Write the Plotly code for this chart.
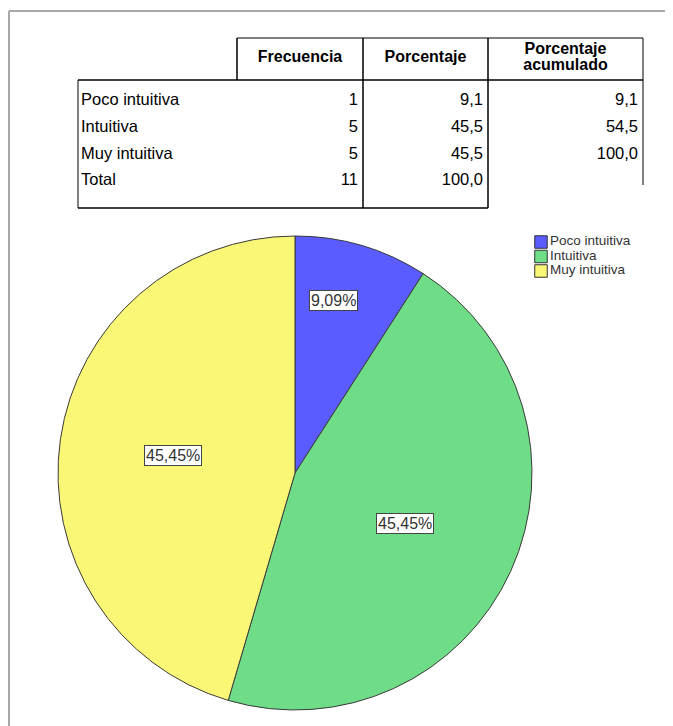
import numpy as np
import plotly.graph_objects as go

# data
categorias = ["Poco intuitiva", "Intuitiva", "Muy intuitiva"]
frecuencia = [1, 5, 5]
encabezados = ["Frecuencia", "Porcentaje", "Porcentaje<br>acumulado"]
colores = ["#5a5cff", "#6fdd87", "#fbf776"]

W, H = 673, 726
OFF = 8  # page body margin, so axis units == screen pixels
FONT = "Liberation Sans, Arial, sans-serif"

total = sum(frecuencia)
pct = [f / total * 100 for f in frecuencia]
acum = np.cumsum(pct)
fmt = lambda v, d=1: f"{v:.{d}f}".replace(".", ",")

filas = categorias + ["Total"]
col_frec = [str(f) for f in frecuencia] + [str(total)]
col_pct = [fmt(p) for p in pct] + [fmt(100)]
col_acum = [fmt(a) for a in acum] + [""]

# table geometry (screen pixels)
xl, x1, x2, x3, x4 = 78, 237, 363, 488, 643
y_top, y_hdr, y_bot = 38, 80, 208
row_y = [101, 128, 155, 181]
hdr_y, hdr_lh = 58, 16.5

fig = go.Figure()

txt = dict(mode="text", showlegend=False, hoverinfo="skip")
body_font = dict(family=FONT, size=16.5, color="#000")
fig.add_trace(go.Scatter(x=[xl + 3] * 4, y=row_y, text=filas, textposition="middle right",
                         textfont=body_font, **txt))
for xr, col in [(x2, col_frec), (x3, col_pct), (x4, col_acum)]:
    fig.add_trace(go.Scatter(x=[xr - 5] * 4, y=row_y, text=col, textposition="middle left",
                             textfont=body_font, **txt))
hx, hy, ht = [], [], []
for xc, h in zip([(x1 + x2) / 2, (x2 + x3) / 2, (x3 + x4) / 2], encabezados):
    partes = h.split("<br>")
    for k, p in enumerate(partes):
        hx.append(xc)
        hy.append(hdr_y + (k - (len(partes) - 1) / 2) * hdr_lh)
        ht.append(f"<b>{p}</b>")
fig.add_trace(go.Scatter(x=hx, y=hy, text=ht, textposition="middle center",
                         textfont=dict(family=FONT, size=16, color="#000"), **txt))

def line(xa, ya, xb, yb, w=1.0, c="#000"):
    fig.add_shape(type="line", xref="x", yref="y", x0=xa, y0=ya, x1=xb, y1=yb,
                  line=dict(color=c, width=w))

line(x1, y_top, x4, y_top)
line(xl, y_hdr, x4, y_hdr, 1.5)
line(xl, y_bot, x3, y_bot, 1.5)
line(xl, y_hdr, xl, y_bot)
line(x1, y_top, x1, y_hdr, 1.5)
line(x2, y_top, x2, y_bot, 1.5)
line(x3, y_top, x3, y_bot, 1.5)
line(x4, y_top, x4, 185)

# outer frame
line(9, 11, W + 20, 11, 2, "#a8a8a8")
line(9, 11, 9, H + 20, 2, "#a8a8a8")

# pie
cx, cy, R = 295, 473, 237
fig.add_trace(go.Pie(labels=categorias, values=frecuencia, sort=False, direction="clockwise",
                     rotation=0, textinfo="none", hoverinfo="label+percent", showlegend=False,
                     marker=dict(colors=colores, line=dict(color="#3a3a3a", width=1)),
                     domain=dict(x=[(cx - R - OFF) / W, (cx + R - OFF) / W],
                                 y=[1 - (cy + R - OFF) / H, 1 - (cy - R - OFF) / H])))

# boxed percentage labels inside each slice
r_frac = [0.745, 0.51, 0.52]
pos_in_slice = [0.38, 0.5, 0.5]
start = np.concatenate([[0], np.cumsum(pct)[:-1]])
for p, s, rf, ps in zip(pct, start, r_frac, pos_in_slice):
    th = np.deg2rad((s + p * ps) * 3.6)
    fig.add_annotation(x=cx + rf * R * np.sin(th), y=cy - rf * R * np.cos(th), xref="x", yref="y",
                       text=fmt(p, 2) + "%", showarrow=False,
                       font=dict(family=FONT, size=16, color="#333"),
                       bgcolor="white", bordercolor="#444", borderwidth=1, borderpad=1)

# legend (swatch + label per category)
leg_x, leg_y, leg_dy = 541, 242, 14.5
leg_yy = [leg_y + i * leg_dy for i in range(len(categorias))]
fig.add_trace(go.Scatter(x=[leg_x] * len(categorias), y=leg_yy, mode="markers", showlegend=False,
                         hoverinfo="skip",
                         marker=dict(symbol="square", size=12.5, color=colores,
                                     line=dict(color="#333", width=1))))
fig.add_trace(go.Scatter(x=[leg_x + 9] * len(categorias), y=leg_yy, text=categorias,
                         textposition="middle right",
                         textfont=dict(family=FONT, size=13.5, color="#333"), **txt))

fig.update_layout(
    width=W, height=H, margin=dict(l=0, r=0, t=0, b=0),
    paper_bgcolor="white", plot_bgcolor="white",
    xaxis=dict(range=[OFF, W + OFF], visible=False, domain=[0, 1], fixedrange=True),
    yaxis=dict(range=[H + OFF, OFF], visible=False, domain=[0, 1], fixedrange=True),
)

fig.write_html("out.html")
